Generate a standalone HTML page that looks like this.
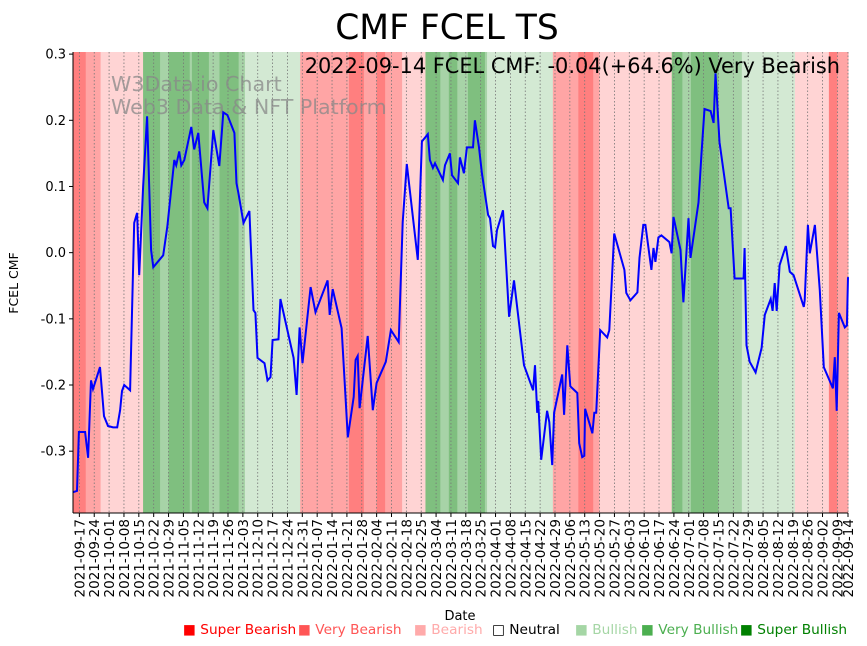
<!DOCTYPE html>
<html><head><meta charset="utf-8"><style>
body{margin:0;background:#fff;}
svg{display:block;font-family:"DejaVu Sans","Liberation Sans",sans-serif;}
</style></head><body>
<svg id="chart" width="867" height="646" viewBox="0 0 867 646">
<text x="447" y="39" font-size="34.5" text-anchor="middle">CMF FCEL TS</text>
<g id="bands"></g>
<g id="grid"></g>
<g fill="#888" fill-opacity="0.75" font-size="20.6">
<text x="111" y="91">W3Data.io Chart</text>
<text x="111" y="114">Web3 Data &amp; NFT Platform</text>
</g>
<text x="840" y="73" font-size="20.9" text-anchor="end">2022-09-14 FCEL CMF: -0.04(+64.6%) Very Bearish</text>
<path id="line" fill="none" stroke="#0000ff" stroke-width="2"/>
<g id="axes"></g>
<text x="18" y="283" font-size="12.5" text-anchor="middle" transform="rotate(-90 18 283)">FCEL CMF</text>
<text x="460" y="620" font-size="13" text-anchor="middle">Date</text>
<g font-size="13.7">
<text x="183" y="634" fill="#ff0000">■ Super Bearish</text>
<text x="298" y="634" fill="#ff5555">■ Very Bearish</text>
<text x="414" y="634" fill="#ffaaaa">■ Bearish</text>
<text x="492" y="634" fill="#000">□ Neutral</text>
<text x="575" y="634" fill="#a5d6a5">■ Bullish</text>
<text x="641" y="634" fill="#4caf50">■ Very Bullish</text>
<text x="740" y="634" fill="#008000">■ Super Bullish</text>
</g>
</svg>
<script>
// days since 2021-09-14
const days=[0,1.9,2.8,5.7,7.1,8.5,9.4,12.7,14.6,16.5,18.9,20.8,22.2,23.1,24.1,26.9,28.8,30.2,31.2,33.0,34.9,36.8,37.8,42.5,44.4,47.7,48.6,50.0,51.0,52.4,55.7,57.1,59.0,61.8,63.3,66.1,68.9,70.8,72.7,76.0,77.0,77.9,80.3,83.1,85.0,85.9,86.9,90.2,91.6,93.0,94.0,96.8,97.7,103.9,105.3,106.7,108.1,111.9,114.2,119.9,120.9,122.3,126.5,129.4,132.2,133.1,134.1,135.0,138.8,141.2,143.0,147.3,149.7,153.4,155.3,157.2,162.4,164.3,167.1,168.1,169.5,170.5,174.2,175.2,177.5,178.5,181.3,182.2,184.1,185.5,188.4,189.3,191.2,192.6,195.5,196.4,197.8,198.8,199.7,202.5,205.4,207.7,212.4,216.7,217.6,218.6,219.1,220.5,223.3,224.3,225.7,226.6,230.4,231.3,232.8,234.2,237.5,238.4,239.8,240.8,241.2,244.6,245.5,246.4,248.3,251.6,252.6,254.9,259.7,260.6,262.5,265.8,266.8,268.6,269.6,272.4,273.4,274.3,275.7,277.1,280.9,281.9,282.8,286.1,287.5,289.9,290.8,294.6,296.0,297.4,300.3,301.7,302.6,304.5,308.8,309.7,311.6,315.8,316.3,317.2,318.7,321.5,324.3,325.8,328.6,329.5,330.5,331.4,332.8,335.7,337.6,339.4,344.2,344.6,346.1,347.0,349.4,351.7,353.6,357.9,358.8,359.7,360.7,363.5,364.5,365];
const cmf=[-0.362,-0.360,-0.271,-0.271,-0.310,-0.193,-0.206,-0.173,-0.247,-0.262,-0.264,-0.264,-0.238,-0.209,-0.200,-0.208,0.045,0.060,-0.034,0.099,0.206,0.004,-0.022,-0.004,0.039,0.140,0.132,0.153,0.132,0.140,0.190,0.156,0.181,0.076,0.067,0.185,0.131,0.212,0.208,0.181,0.105,0.090,0.045,0.063,-0.087,-0.091,-0.159,-0.167,-0.193,-0.188,-0.132,-0.131,-0.070,-0.159,-0.215,-0.113,-0.167,-0.052,-0.090,-0.042,-0.094,-0.055,-0.114,-0.279,-0.218,-0.162,-0.156,-0.235,-0.126,-0.238,-0.197,-0.165,-0.117,-0.135,0.046,0.134,-0.011,0.168,0.179,0.140,0.128,0.135,0.110,0.132,0.150,0.117,0.105,0.144,0.120,0.159,0.159,0.200,0.159,0.120,0.057,0.052,0.010,0.008,0.034,0.064,-0.097,-0.042,-0.170,-0.208,-0.170,-0.242,-0.224,-0.313,-0.239,-0.256,-0.321,-0.242,-0.184,-0.245,-0.140,-0.202,-0.212,-0.288,-0.309,-0.307,-0.236,-0.273,-0.242,-0.242,-0.117,-0.128,-0.117,0.029,-0.026,-0.061,-0.072,-0.060,-0.008,0.042,0.042,-0.026,0.007,-0.014,0.023,0.026,0.016,-0.001,0.054,0.004,-0.075,0.052,-0.008,0.076,0.150,0.217,0.214,0.196,0.271,0.167,0.067,0.067,-0.039,-0.039,0.007,-0.140,-0.165,-0.181,-0.144,-0.094,-0.070,-0.088,-0.046,-0.088,-0.019,0.010,-0.029,-0.034,-0.082,-0.072,0.042,-0.001,0.042,-0.057,-0.173,-0.205,-0.158,-0.239,-0.091,-0.113,-0.110,-0.037];
const bandStart=[0,6,13,33,41,45,55,56,64,69,78,81,107,130,137,143,147,155,166,173,177,181,186,194,195,226,238,245,248,282,287,291,304,315,340,356,360];
const bandEnd=[6,13,33,41,45,55,56,64,69,78,81,107,130,137,143,147,155,166,173,177,181,186,194,195,226,238,245,248,282,287,291,304,315,340,356,360,365];
const bandLevel=[-3,-2,-1,3,2,3,2,3,2,3,2,1,-2,-3,-2,-3,-2,-1,3,2,3,2,3,2,1,-2,-3,-2,-1,3,2,3,2,1,-1,-3,-2];
const yTicks=[0.3,0.2,0.1,0.0,-0.1,-0.2,-0.3];
const tickDays=[];
for(let i=0;i<52;i++)tickDays.push(3+7*i);
tickDays.push(365);

const NS="http://www.w3.org/2000/svg";
const X0=73,X1=848,Y0=52,Y1=513,DMAX=365,VMIN=-0.3934,VMAX=0.3032;
const sx=d=>X0+(d/DMAX)*(X1-X0);
const sy=v=>Y1-(v-VMIN)/(VMAX-VMIN)*(Y1-Y0);
const colors={"-3":"#ff7f7f","-2":"#ffa5a5","-1":"#ffd4d4","1":"#d3e9d3","2":"#a7d3a7","3":"#7fbf7f"};
function mk(tag,attrs,parent){const e=document.createElementNS(NS,tag);for(const k in attrs)e.setAttribute(k,attrs[k]);parent.appendChild(e);return e;}
const bands=document.getElementById('bands');
for(let i=0;i<bandStart.length;i++){
 const r=mk('rect',{x:sx(bandStart[i]),y:Y0,width:sx(bandEnd[i])-sx(bandStart[i])+0.5,height:Y1-Y0,fill:colors[bandLevel[i]]},bands);
 
 
}
const grid=document.getElementById('grid'),axes=document.getElementById('axes');
const start=new Date(Date.UTC(2021,8,14));
tickDays.forEach(d=>{
 const x=sx(d);
 const g=mk('line',{x1:x,x2:x,y1:Y0,y2:Y1,stroke:'#777','stroke-width':0.8,'stroke-dasharray':'1.5,2'},grid);
 
 
 mk('line',{x1:x,x2:x,y1:Y1,y2:Y1+4,stroke:'#000'},axes);
 const dt=new Date(start.getTime()+d*86400000);
 const lab=dt.toISOString().slice(0,10);
 const t=mk('text',{x:0,y:0,'font-size':13.5,'text-anchor':'end',transform:`translate(${x+5},${Y1+6}) rotate(-90)`},axes);
 t.textContent=lab;
 
 
});
yTicks.forEach(v=>{
 const y=sy(v);
 mk('line',{x1:X0-4,x2:X0,y1:y,y2:y,stroke:'#000'},axes);
 const t=mk('text',{x:X0-7,y:y+4.5,'font-size':13,'text-anchor':'end'},axes);
 t.textContent=v.toFixed(1);
 
 
});
mk('line',{x1:X0,x2:X0,y1:Y0,y2:Y1,stroke:'#000'},axes);
mk('line',{x1:X0,x2:X1,y1:Y1,y2:Y1,stroke:'#000'},axes);
let p='';
for(let i=0;i<days.length;i++)p+=(i?'L':'M')+sx(days[i]).toFixed(1)+','+sy(cmf[i]).toFixed(1);
document.getElementById('line').setAttribute('d',p);
</script>
</body></html>
